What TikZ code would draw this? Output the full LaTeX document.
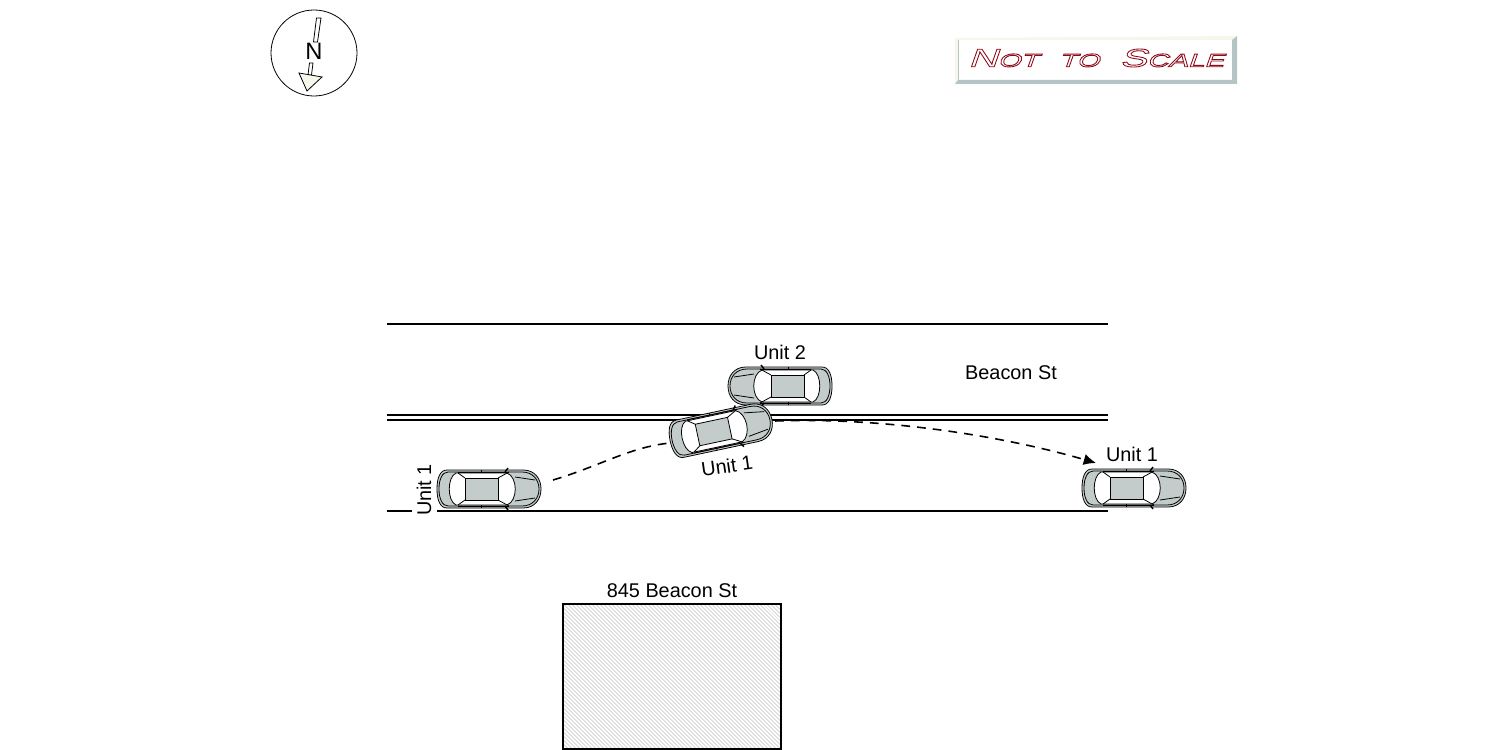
\documentclass[tikz,border=0pt]{standalone}
\usepackage{fontspec}
\setmainfont{Liberation Sans}
\newfontfamily\scalefont[FakeSlant=0.35,FakeStretch=1.6]{Liberation Sans}
\usetikzlibrary{arrows.meta,patterns.meta}
\definecolor{carfill}{HTML}{C3CCCB}
\definecolor{bevlight}{HTML}{F6F6EC}
\definecolor{bevdark}{HTML}{B5C5C5}
\definecolor{badgered}{HTML}{8E0A18}
\tikzset{
    label/.style={font=\fontsize{11.3}{13}\selectfont,inner sep=0pt},
    roadline/.style={line width=1pt},
    travel/.style={line width=0.9pt,dash pattern=on 5pt off 4pt}
}
\def\carbody{(-42,-19) -- (34,-19) .. controls (46,-19) and (52,-10) .. (52,0) .. controls (52,10) and (46,19) .. (34,19) -- (-42,19) .. controls (-49,19) and (-52,11) .. (-52,0) .. controls (-52,-11) and (-49,-19) .. (-42,-19) -- cycle}
\def\carinner{(-41,-17) -- (33,-17) .. controls (44,-17) and (50,-9) .. (50,0) .. controls (50,9) and (44,17) .. (33,17) -- (-41,17) .. controls (-47,17) and (-50,9) .. (-50,0) .. controls (-50,-9) and (-47,-17) .. (-41,-17) -- cycle}
\def\carglass{(-33,-16) .. controls (-42,-12) and (-42,12) .. (-33,16) -- (18,16) .. controls (29,12) and (29,-12) .. (18,-16) -- cycle}
\def\car#1#2{\begin{scope}[shift={#1},rotate=#2,line width=0.45pt]
    \draw[fill=carfill] \carbody;
    \draw \carinner;
    \draw[fill=white] \carglass;
    \draw[fill=carfill] (-24,-11) rectangle (9,11);
    \draw (-24,-11) -- (-31,-16) (9,-11) -- (20,-17) (-24,11) -- (-31,16) (9,11) -- (20,17);
    \draw (-31,-17) -- (20,-17) (-31,17) -- (20,17);
    \draw (-8,-19) -- (-8,-16) (-8,19) -- (-8,16);
    \draw (26,-12) -- (46,-9) (26,12) -- (46,9);
    \draw[line width=0.8pt] (16,-17) -- (19,-21) (16,17) -- (19,21);
\end{scope}}
\begin{document}
\begin{tikzpicture}[x=0.02cm,y=-0.02cm]
    \useasboundingbox (0,0) rectangle (1500,750);
    % compass
    \draw[line width=0.45pt] (314,53) circle (43);
    \draw[line width=0.45pt] (316.5,18) -- (321,18) -- (317.5,42) -- (313.5,42) -- cycle;
    \draw[line width=0.45pt] (309.5,63) -- (313,63) -- (311.5,75) -- (308,75) -- cycle;
    \draw[line width=0.45pt,fill=bevlight] (299,73) -- (322,77) -- (307,91) -- cycle;
    \node[label,font=\fontsize{13.5}{15}\selectfont] (north) at (314,51) {N};
    % badge
    \fill[bevlight] (955,38) -- (1237,36) -- (1232,40) -- (958,40) -- (958,80) -- (955,84) -- cycle;
    \fill[bevdark] (1237,36) -- (1237,84) -- (955,84) -- (958,80) -- (1232,80) -- (1232,40) -- cycle;
    \draw[bevdark,line width=0.3pt] (958,80) -- (958,40);
    \node[inner sep=0pt,text=badgered] (badge) at (1096,58) {\special{pdf:code 1 Tr 0.5 w}\scalefont\fontsize{14.5}{17}\selectfont N\fontsize{10.5}{13}\selectfont OT\hspace{1.1em}TO\hspace{1.1em}\fontsize{14.5}{17}\selectfont S\fontsize{10.5}{13}\selectfont CALE\special{pdf:code 0 Tr}};
    % road
    \draw[roadline] (387,324) -- (1108,324);
    \draw[roadline] (387,415) -- (1108,415);
    \draw[roadline] (387,420) -- (1108,420);
    \draw[roadline] (387,511) -- (412,511);
    \draw[roadline] (437,511) -- (1108,511);
    \node[label] (street) at (1011,373) {Beacon St};
    % travel
    \coordinate (startA) at (553,480);
    \coordinate (endA) at (670,443);
    \coordinate (startB) at (775,421);
    \coordinate (endB) at (1096,463);
    \draw[travel] (startA) .. controls (600,466) and (630,447) .. (endA);
    \draw[travel,-{Latex[length=7pt,width=6.5pt]}] (startB) .. controls (880,417) and (1000,435) .. (endB);
    % units
    \car{(489,489)}{0}
    \car{(780,386)}{180}
    \car{(721,430)}{12}
    \car{(1134,488)}{0}
    \node[label,rotate=90] (unitA) at (424,490) {Unit 1};
    \node[label] (unitB) at (780,352) {Unit 2};
    \node[label,rotate=8] (unitC) at (727,466) {Unit 1};
    \node[label] (unitD) at (1132,454) {Unit 1};
    % building
    \draw[line width=0.6pt,pattern={Lines[angle=-45,distance=1.604pt,line width=0.3pt]},pattern color=gray!70] (563,604) rectangle (781,749);
    \node[label] (house) at (672,591) {845 Beacon St};
\end{tikzpicture}
\end{document}
